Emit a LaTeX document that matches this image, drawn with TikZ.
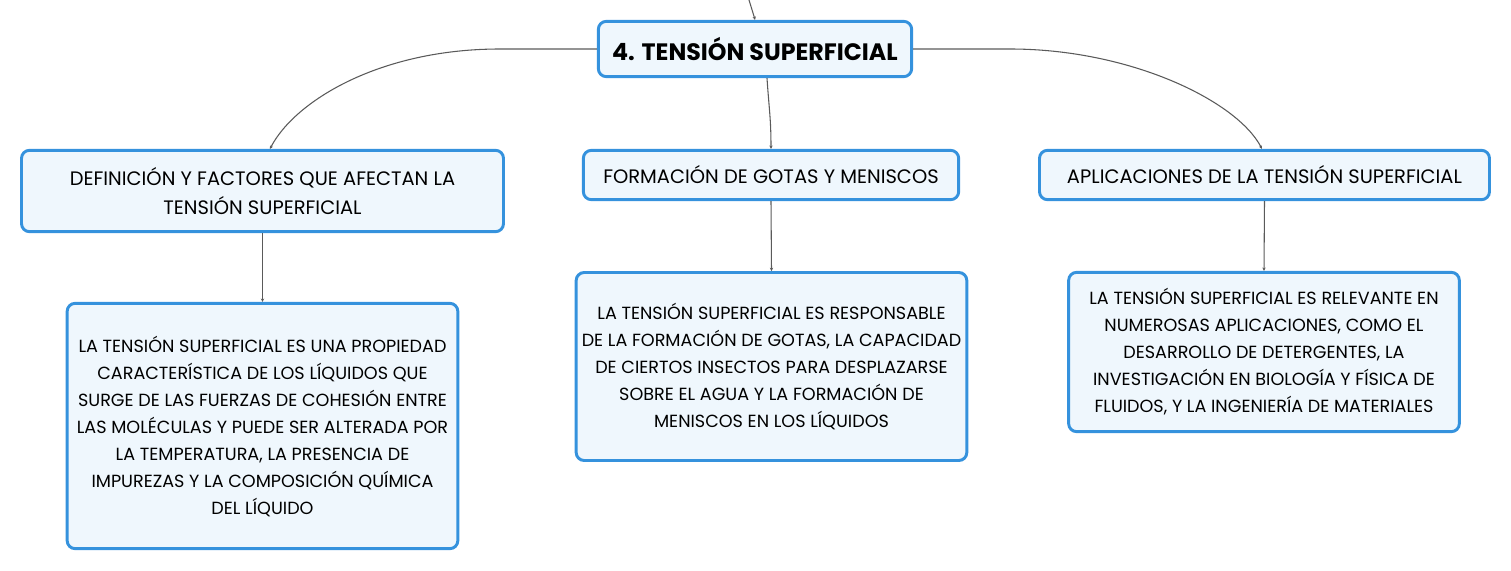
\documentclass[tikz,border=0pt]{standalone}
\usepackage{fontspec}
\setmainfont{Poppins}
\usetikzlibrary{arrows.meta}
\definecolor{mmazul}{HTML}{3592DD}
\definecolor{mmfondo}{HTML}{EFF7FD}
\definecolor{mmgris}{HTML}{5A5A5A}
\tikzset{
  mm_caja/.style = {draw=mmazul, fill=mmfondo, line width=2.2pt, rounded corners=6pt,
    align=center, inner sep=0pt, text centered},
  mm_tema/.style = {mm_caja, font=\fontsize{17.8}{21}\selectfont\bfseries,
    minimum width=235pt, minimum height=41.5pt},% mapa mental, tema central
  mm_rama/.style = {mm_caja, font=\fontsize{14.6}{21.75}\selectfont,
    minimum height=37pt},% mapa mental, rama
  mm_hoja/.style = {mm_caja, font=\fontsize{13.2}{20.25}\selectfont,
    minimum width=293pt},% mapa mental, hoja
  mm_enlace/.style = {draw=mmgris, line width=0.8pt, -{Stealth[length=2.5pt,width=2.5pt]}}
}
\begin{document}
\begin{tikzpicture}[x=0.75pt, y=0.75pt]
  \useasboundingbox (0,0) rectangle (1511,-571);
  \node [mm_tema] (tema) at (755,-49) {4. TENSIÓN SUPERFICIAL};
  \node [mm_rama, minimum width=361.5pt, minimum height=61pt] (defin) at (262.5,-191)
    {DEFINICIÓN Y FACTORES QUE AFECTAN LA\\TENSIÓN SUPERFICIAL};
  \node [mm_rama, minimum width=281.5pt] (gotas) at (771,-175)
    {FORMACIÓN DE GOTAS Y MENISCOS};
  \node [mm_rama, minimum width=337.5pt] (aplic) at (1264.5,-175)
    {APLICACIONES DE LA TENSIÓN SUPERFICIAL};
  \node [mm_hoja, minimum height=184pt] (defin_t) at (262.5,-426)
    {LA TENSIÓN SUPERFICIAL ES UNA PROPIEDAD\\
     CARACTERÍSTICA DE LOS LÍQUIDOS QUE\\
     SURGE DE LAS FUERZAS DE COHESIÓN ENTRE\\
     LAS MOLÉCULAS Y PUEDE SER ALTERADA POR\\
     LA TEMPERATURA, LA PRESENCIA DE\\
     IMPUREZAS Y LA COMPOSICIÓN QUÍMICA\\
     DEL LÍQUIDO};
  \node [mm_hoja, minimum height=141pt] (gotas_t) at (771.5,-366.5)
    {LA TENSIÓN SUPERFICIAL ES RESPONSABLE\\
     DE LA FORMACIÓN DE GOTAS, LA CAPACIDAD\\
     DE CIERTOS INSECTOS PARA DESPLAZARSE\\
     SOBRE EL AGUA Y LA FORMACIÓN DE\\
     MENISCOS EN LOS LÍQUIDOS};
  \node [mm_hoja, minimum height=119.5pt] (aplic_t) at (1264,-352)
    {LA TENSIÓN SUPERFICIAL ES RELEVANTE EN\\
     NUMEROSAS APLICACIONES, COMO EL\\
     DESARROLLO DE DETERGENTES, LA\\
     INVESTIGACIÓN EN BIOLOGÍA Y FÍSICA DE\\
     FLUIDOS, Y LA INGENIERÍA DE MATERIALES};
  % enlaces
  \coordinate (entrada) at (749,0);
  \draw [mm_enlace] (entrada) .. controls +(3,-8) .. (tema.north);
  \draw [mm_enlace] (tema.west) -- ++(-97,0)
    .. controls +(-120,0) and +(25,48) .. ([xshift=5.6pt]defin.north);
  \draw [mm_enlace] ([xshift=9pt]tema.south)
    .. controls +(2,-30) and +(0,30) .. (gotas.north);
  \draw [mm_enlace] (tema.east) -- ++(97,0)
    .. controls +(120,0) and +(-25,48) .. ([xshift=-1.9pt]aplic.north);
  \draw [mm_enlace] (defin.south) -- (defin_t.north);
  \draw [mm_enlace] (gotas.south) -- (gotas_t.north);
  \draw [mm_enlace] (aplic.south) -- (aplic_t.north);
\end{tikzpicture}
\end{document}
